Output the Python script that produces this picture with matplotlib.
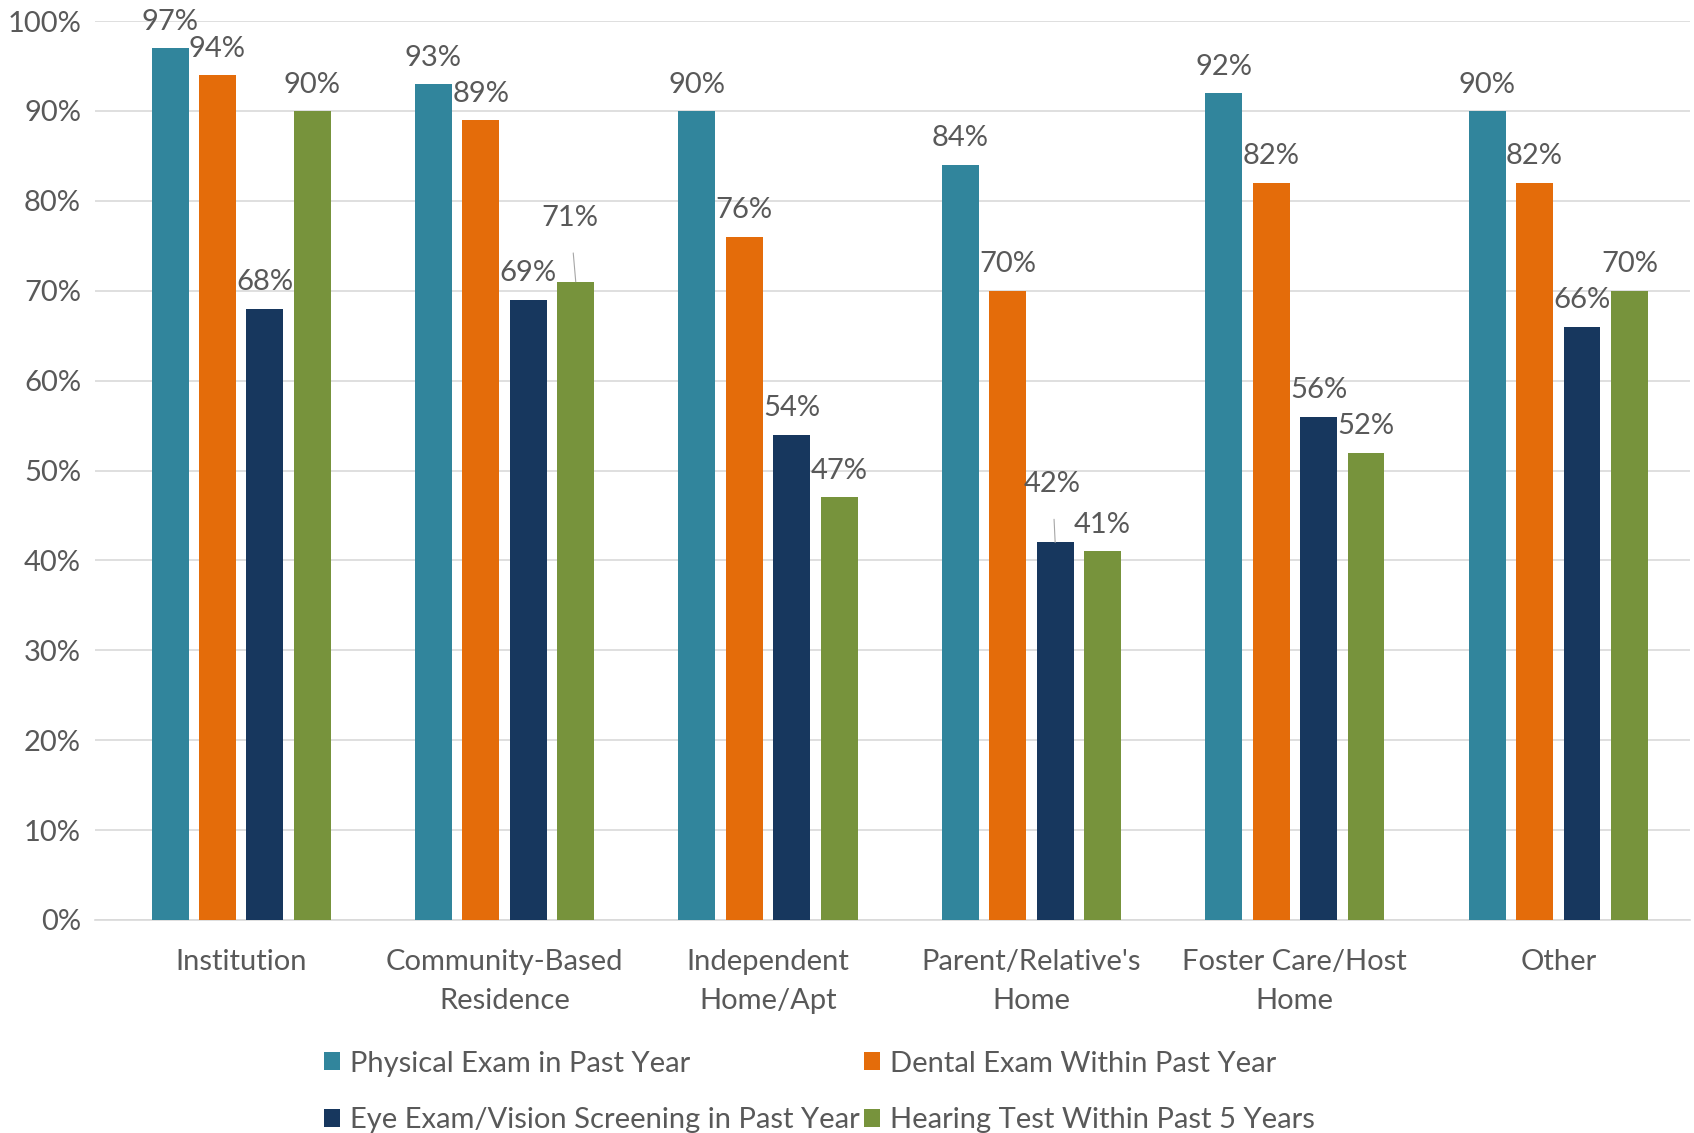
import matplotlib
matplotlib.use("Agg")
import matplotlib.pyplot as plt
import numpy as np

plt.rcParams['font.family'] = ['Lato', 'DejaVu Sans']

# residence types and the share of people with each screening
categories = ["Institution", "Community-Based\nResidence", "Independent\nHome/Apt",
              "Parent/Relative's\nHome", "Foster Care/Host\nHome", "Other"]
series_names = ["Physical Exam in Past Year", "Dental Exam Within Past Year",
                "Eye Exam/Vision Screening in Past Year", "Hearing Test Within Past 5 Years"]
physical = [97, 93, 90, 84, 92, 90]
dental = [94, 89, 76, 70, 82, 82]
eye = [68, 69, 54, 42, 56, 66]
hearing = [90, 71, 47, 41, 52, 70]

colors = ["#31859C", "#E46C0A", "#17375E", "#77933C"]
TEXT = "#595959"
FS = 21

fig = plt.figure(figsize=(16.94, 11.33), dpi=100)
ax = fig.add_axes([95/1694, 1 - 920/1133, 1595/1694, 899/1133])

x = np.arange(len(categories))
width = 0.14
offsets = [-0.27, -0.09, 0.09, 0.27]

# labels that were dragged up with a leader line: (series, category) -> (dx, dy) in points
moved = {(3, 1): (-4, 46), (2, 3): (-2, 42)}

bars = []
for s, vals in enumerate([physical, dental, eye, hearing]):
    b = ax.bar(x + offsets[s], vals, width, color=colors[s], label=series_names[s], zorder=3)
    bars.append(b)
    for c, v in enumerate(vals):
        xc = x[c] + offsets[s]
        if (s, c) in moved:
            dx, dy = moved[(s, c)]
            ax.annotate(f"{v}%", (xc, v), xytext=(dx, dy), textcoords="offset points",
                        ha="center", va="center", fontsize=FS, color=TEXT,
                        arrowprops=dict(arrowstyle="-", color="#A6A6A6", lw=0.8,
                                        shrinkA=14, shrinkB=0))
        else:
            ax.annotate(f"{v}%", (xc, v), xytext=(0, 19), textcoords="offset points",
                        ha="center", va="center", fontsize=FS, color=TEXT)

ax.set_ylim(0, 100)
ax.set_xlim(-0.555, 5.5)
ax.set_yticks(np.arange(0, 101, 10))
ax.set_yticklabels([f"{t}%" for t in range(0, 101, 10)])
ax.set_xticks(x)
ax.set_xticklabels(categories, linespacing=1.62)
ax.tick_params(axis='both', length=0, labelsize=FS, labelcolor=TEXT)
ax.tick_params(axis='x', pad=21)
ax.tick_params(axis='y', pad=10)
ax.grid(axis='y', color="#D9D9D9", lw=1.2, zorder=0)
for side in ["top", "right", "left"]:
    ax.spines[side].set_visible(False)
ax.spines["bottom"].set_color("#D9D9D9")
ax.spines["bottom"].set_linewidth(1.2)

# legend rows: Physical/Dental on top, Eye/Hearing underneath
order = [0, 2, 1, 3]
leg = fig.legend([bars[i] for i in order], [series_names[i] for i in order],
                 ncol=2, loc="upper left", bbox_to_anchor=(309/1694, 1 - 1036/1133),
                 frameon=False, fontsize=FS, handlelength=0.55, handleheight=0.55,
                 handletextpad=0.35, columnspacing=0.15, labelspacing=1.05, borderpad=0)
for t in leg.get_texts():
    t.set_color(TEXT)

fig.savefig("out.png", dpi=100)
